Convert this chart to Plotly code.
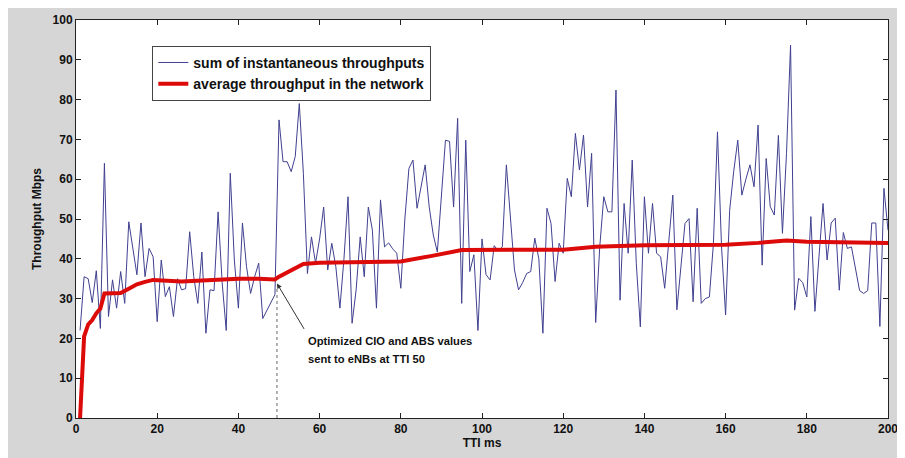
import plotly.graph_objects as go

# ---- data ----
tti = list(range(1, 201))
sum_inst = [
    22, 35.5, 35, 29, 37, 22.5, 64, 25.5, 34.7, 27.6,
    36.8, 28.8, 49.3, 42.2, 36, 49, 35.5, 42.6, 40.5, 24.2,
    39.7, 30.5, 33, 25.5, 35, 32.2, 32.5, 46.8, 35.5, 28.8,
    41.7, 21.3, 32.2, 32, 51.8, 34, 22, 61.5, 39.7, 27.6,
    49, 38, 31.3, 35.5, 38.9, 25, 27, 28.8, 31, 74.9,
    64.4, 64.4, 61.9, 65.7, 79, 61.5, 36.3, 45.5, 38.9, 45,
    53, 37.2, 43.9, 38, 27.6, 40, 55.6, 23.8, 32.2, 45.5,
    35.5, 53, 47.2, 27.6, 54.8, 43, 44, 42.5, 41.4, 32.6,
    50, 62.7, 64.8, 52.7, 58, 63.6, 53, 46, 41.7, 55,
    69.8, 69.5, 53, 75.3, 28.8, 69.8, 36.8, 41, 22, 45,
    36, 34.7, 43.3, 42, 43, 63.6, 50, 37.2, 32.2, 34,
    36.3, 36.8, 45.2, 40, 21.3, 52.7, 48.9, 34.3, 43.9, 41.4,
    60.2, 55.6, 71.5, 62.3, 71.1, 53, 66.5, 24, 43, 55.6,
    51.8, 51.8, 82.4, 29.6, 53.9, 41.4, 64.8, 38.9, 22.9, 55.6,
    41.4, 53.9, 41.4, 40.5, 32.6, 45, 56, 27.2, 38.9, 48.9,
    50.1, 29.2, 52.7, 28.8, 30, 30.4, 43.8, 71.9, 43, 25.9,
    52.2, 62, 69.8, 56, 60, 63.6, 58.1, 73.6, 38.4, 65.2,
    53.1, 51, 71, 46.4, 66.5, 93.7, 27.1, 35.1, 34, 30.4,
    50.6, 26.8, 40.5, 53.9, 39.7, 49, 50.2, 32.1, 46.6, 42.6,
    43, 37.2, 32, 31.3, 32, 49, 49, 23, 57.7, 47.2,
]

avg_tti = [1, 2, 3, 4, 5, 6, 7, 11, 13, 15, 17, 19, 26, 30, 40, 45, 49, 50,
           53, 56, 60, 76, 80, 88, 95, 120, 128, 140, 160, 168, 175, 180, 200]
avg_tp = [0, 20.5, 23.5, 24.6, 26.3, 27.5, 31.3, 31.4, 32.5, 33.6, 34.2, 34.7,
          34.3, 34.5, 35, 35, 34.8, 35.5, 37.2, 38.7, 39, 39.3, 39.3, 40.8,
          42.2, 42.3, 43, 43.4, 43.5, 44, 44.6, 44.3, 44]

x_ticks = [0, 20, 40, 60, 80, 100, 120, 140, 160, 180, 200]
y_ticks = [0, 10, 20, 30, 40, 50, 60, 70, 80, 90, 100]

event_tti = 49.5
event_level = 33

FONT = "Liberation Sans, Arial, sans-serif"

fig = go.Figure()
fig.add_trace(go.Scatter(
    x=tti, y=sum_inst, mode="lines",
    line=dict(color="#404090", width=1),
    name="<b>sum of instantaneous throughputs</b>",
))
fig.add_trace(go.Scatter(
    x=avg_tti, y=avg_tp, mode="lines",
    line=dict(color="#dd0a0a", width=4),
    name="<b>average throughput in the network</b>",
))

# dotted marker at TTI 50
fig.add_shape(type="line", x0=event_tti, x1=event_tti, y0=0, y1=event_level,
              xref="x", yref="y", line=dict(color="#666666", width=1, dash="dot"))

# arrow
fig.add_annotation(x=event_tti, y=event_level + 0.8, ax=56.4, ay=22, xref="x", yref="y",
                   axref="x", ayref="y", text="", showarrow=True,
                   arrowhead=2, arrowsize=1, arrowwidth=1, arrowcolor="#333333")
fig.add_annotation(x=56.6, y=19.3, xref="x", yref="y",
                   text="<b>Optimized CIO and ABS values</b>",
                   showarrow=False, xanchor="left", yanchor="middle", align="left",
                   font=dict(family=FONT, size=11.2, color="#111111"))
fig.add_annotation(x=56.6, y=14.9, xref="x", yref="y",
                   text="<b>sent to eNBs at TTI 50</b>",
                   showarrow=False, xanchor="left", yanchor="middle", align="left",
                   font=dict(family=FONT, size=11.2, color="#111111"))

axis_common = dict(
    showgrid=False, zeroline=False, showline=True, linecolor="#222222", linewidth=1,
    mirror="ticks", ticks="inside", ticklen=5, tickcolor="#222222",
    tickfont=dict(family=FONT, size=12, color="#111111"), automargin=False,
)
fig.update_xaxes(range=[0, 200], tickvals=x_ticks, ticktext=[f"<b>{v}</b>" for v in x_ticks],
                 title=dict(text="<b>TTI ms</b>", font=dict(family=FONT, size=12, color="#111111"),
                            standoff=2), **axis_common)
fig.update_yaxes(range=[0, 100], tickvals=y_ticks, ticktext=[f"<b>{v}</b>" for v in y_ticks],
                 title=dict(text="<b>Throughput Mbps</b>", font=dict(family=FONT, size=12, color="#111111"),
                            standoff=8), **axis_common)

fig.update_layout(
    width=905, height=458,
    margin=dict(l=68, r=25, t=12, b=48),
    paper_bgcolor="#d6d6d6", plot_bgcolor="white",
    font=dict(family=FONT, size=12, color="#111111"),
    showlegend=True,
    legend=dict(x=0.094, y=0.935, xanchor="left", yanchor="top",
                bgcolor="white", bordercolor="#444444", borderwidth=1,
                font=dict(family=FONT, size=14, color="#111111"),
                tracegroupgap=0, itemwidth=30),
)

fig.write_html("out.html")
